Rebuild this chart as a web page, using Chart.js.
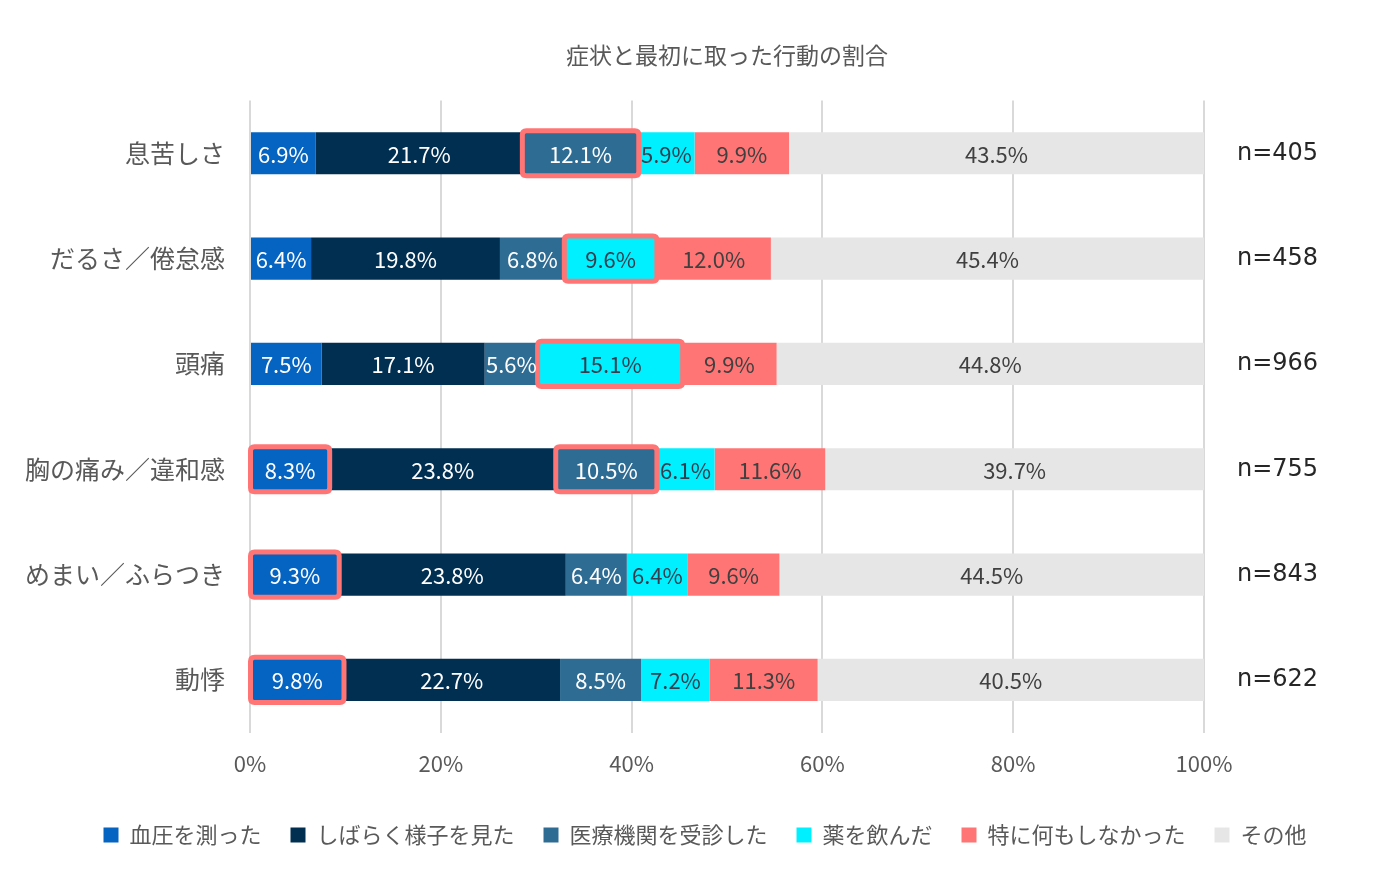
<!DOCTYPE html>
<html><head><meta charset="utf-8">
<script src="https://cdn.jsdelivr.net/npm/chart.js@4"></script>
<style>html,body{margin:0;padding:0;background:#fff}#wrap{width:1400px;height:872px}</style>
</head><body><div id="wrap"><canvas id="c"></canvas></div>
<script>
const categories = ['息苦しさ','だるさ／倦怠感','頭痛','胸の痛み／違和感','めまい／ふらつき','動悸'];
const nLabels = ['n=405','n=458','n=966','n=755','n=843','n=622'];
const seriesNames = ['血圧を測った','しばらく様子を見た','医療機関を受診した','薬を飲んだ','特に何もしなかった','その他'];
const bloodPressure = [6.9, 6.4, 7.5, 8.3, 9.3, 9.8];
const waitAndSee   = [21.7, 19.8, 17.1, 23.8, 23.8, 22.7];
const visitedClinic = [12.1, 6.8, 5.6, 10.5, 6.4, 8.5];
const tookMedicine = [5.9, 9.6, 15.1, 6.1, 6.4, 7.2];
const didNothing   = [9.9, 12.0, 9.9, 11.6, 9.6, 11.3];
const other        = [43.5, 45.4, 44.8, 39.7, 44.5, 40.5];
const xTicks = [0, 20, 40, 60, 80, 100];
// highlighted segments: category indices per series
const highlighted = [[3,4,5],[],[0,3],[1,2],[],[]];

const colors = ['#0563C1','#002F52','#2E6C94','#00F0FF','#FF7575','#E6E6E6'];
const labelColors = ['#ffffff','#ffffff','#ffffff','#333f4f','#404040','#404040'];
const values = [bloodPressure, waitAndSee, visitedClinic, tookMedicine, didNothing, other];

const FONT = '"Noto Sans CJK JP","Noto Sans",sans-serif';

function rr(ctx,x,y,w,h,r){ctx.beginPath();ctx.moveTo(x+r,y);ctx.lineTo(x+w-r,y);ctx.quadraticCurveTo(x+w,y,x+w,y+r);ctx.lineTo(x+w,y+h-r);ctx.quadraticCurveTo(x+w,y+h,x+w-r,y+h);ctx.lineTo(x+r,y+h);ctx.quadraticCurveTo(x,y+h,x,y+h-r);ctx.lineTo(x,y+r);ctx.quadraticCurveTo(x,y,x+r,y);ctx.closePath();}

const overlay = {
  id:'overlay',
  afterDatasetsDraw(chart){
    const ctx = chart.ctx;
    ctx.save();
    chart.data.datasets.forEach((ds,i)=>{
      const meta = chart.getDatasetMeta(i);
      highlighted[i].forEach(j=>{
        const el = meta.data[j];
        const p = el.getProps(['x','y','base','height'],true);
        const l = Math.min(p.x,p.base), r = Math.max(p.x,p.base);
        ctx.strokeStyle = '#FF7575';
        ctx.lineWidth = 5;
        rr(ctx,l-0.5,p.y-p.height/2-1.5,r-l+1,p.height+3,4);
        ctx.stroke();
      });
    });
    ctx.font = '22px ' + FONT;
    ctx.textAlign = 'center';
    ctx.textBaseline = 'middle';
    chart.data.datasets.forEach((ds,i)=>{
      const meta = chart.getDatasetMeta(i);
      meta.data.forEach((el,j)=>{
        const p = el.getProps(['x','y','base'],true);
        ctx.fillStyle = labelColors[i];
        ctx.fillText(ds.data[j].toFixed(1)+'%', (p.x+p.base)/2, p.y+1);
      });
    });
    ctx.restore();
  }
};

new Chart(document.getElementById('c'),{
  type:'bar',
  data:{
    labels: categories,
    datasets: values.map((v,i)=>({
      label: seriesNames[i],
      data: v,
      backgroundColor: colors[i],
      borderWidth: 0,
      barPercentage: 0.8,
      categoryPercentage: 0.5
    }))
  },
  options:{
    indexAxis:'y',
    responsive:true,
    maintainAspectRatio:false,
    animation:false,
    layout:{padding:{left:10,right:0,top:41,bottom:16}},
    plugins:{
      title:{display:true,text:'症状と最初に取った行動の割合',color:'#595959',fullSize:false,
        font:{family:FONT,size:23,weight:'normal'},padding:{top:0,bottom:32}},
      legend:{position:'bottom',labels:{color:'#595959',font:{family:FONT,size:22},boxWidth:15,boxHeight:15,padding:29}},
      tooltip:{enabled:false}
    },
    scales:{
      x:{stacked:true,min:0,max:100,
        afterBuildTicks(s){s.ticks = xTicks.map(v=>({value:v}));},
        ticks:{callback:v=>v+'%',color:'#595959',font:{family:FONT,size:22},padding:18},
        grid:{color:'#D9D9D9',lineWidth:2,drawTicks:false},
        border:{display:false}
      },
      y:{stacked:true,
        afterFit(s){s.width = 240;},
        ticks:{color:'#595959',font:{family:FONT,size:25},padding:17},
        grid:{display:false},border:{display:false}
      },
      y2:{type:'category',position:'right',labels:nLabels,offset:true,
        afterFit(s){s.width = 196;},
        ticks:{color:'#262626',font:{family:'"DejaVu Sans",sans-serif',size:24},padding:25},
        grid:{display:false},border:{display:false}
      }
    }
  },
  plugins:[overlay]
});
</script></body></html>
